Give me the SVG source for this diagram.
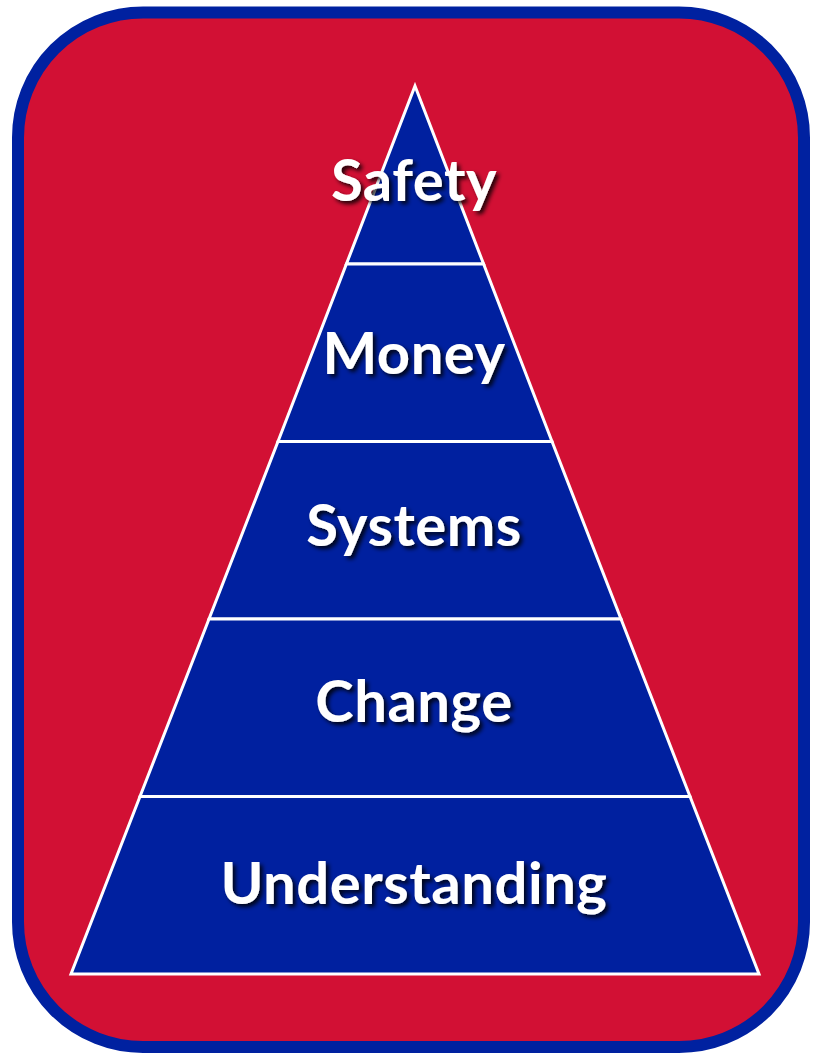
<svg xmlns="http://www.w3.org/2000/svg" width="813" height="1054" viewBox="0 0 813 1054">
<defs>
<filter id="sh" x="-10%" y="-30%" width="130%" height="170%">
<feDropShadow dx="3" dy="3" stdDeviation="2" flood-color="#000000" flood-opacity="0.85"/>
</filter>
<style>
.band{fill:#00209F;stroke:#FFFFFF;stroke-width:3;stroke-linejoin:miter}
.lbl{font-family:Lato,"Open Sans","Liberation Sans",sans-serif;font-weight:bold;font-size:58px;letter-spacing:0.5px;fill:#FFFFFF;text-anchor:middle;filter:url(#sh)}
</style>
</defs>
<rect id="frame" x="18" y="12.5" width="786" height="1034.5" rx="125" ry="125" fill="#D21034" stroke="#0021A0" stroke-width="12"/>
<g id="pyramid">
<g id="safety"><polygon class="band" points="415,86 483.6,264 346.4,264"/><text class="lbl" x="414" y="201">Safety</text></g>
<g id="money"><polygon class="band" points="346.4,264 483.6,264 552,441.5 278,441.5"/><text class="lbl" x="414" y="374">Money</text></g>
<g id="systems"><polygon class="band" points="278,441.5 552,441.5 621,619 209,619"/><text class="lbl" x="414" y="546">Systems</text></g>
<g id="change"><polygon class="band" points="209,619 621,619 690,796.5 140,796.5"/><text class="lbl" x="414" y="722">Change</text></g>
<g id="understanding"><polygon class="band" points="140,796.5 690,796.5 759,974 71,974"/><text class="lbl" x="414" y="904">Understanding</text></g>
</g>
</svg>
